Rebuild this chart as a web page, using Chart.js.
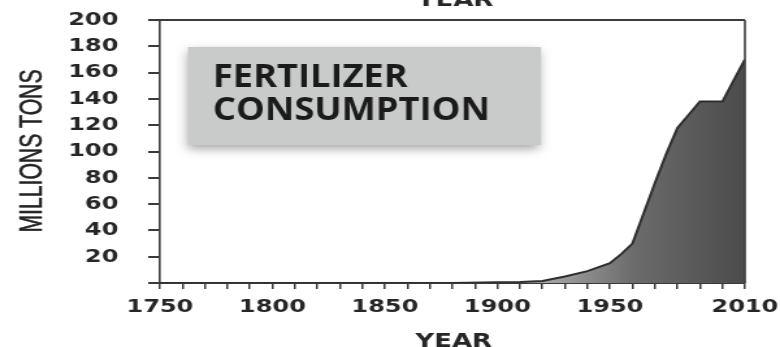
<!DOCTYPE html>
<html>
<head>
<meta charset="utf-8">
<script src="https://cdn.jsdelivr.net/npm/chart.js@4.4.1/dist/chart.umd.min.js"></script>
<style>
  html, body { margin: 0; padding: 0; background: #fff; overflow: hidden; }
  #c { display: block; filter: blur(0.5px); }
</style>
</head>
<body>
<!-- drawn on a narrower canvas and widened, giving the wide lettering -->
<canvas id="c" width="600" height="347" style="width:780px;height:347px"></canvas>
<script>
// World fertilizer consumption, millions of tons
const years  = [1750, 1800, 1850, 1880, 1900, 1910, 1920, 1930, 1940, 1950, 1955, 1960, 1965, 1970, 1975, 1980, 1985, 1990, 2000, 2005, 2010];
const tonnes = [0,    0,    0,    0,    0.5,  0.8,  1.5,  5,    9,    15,   22,   30,   53,   76,   98,   118,  128,  138,  138,  154,  170];

const yTickValues  = [0, 20, 40, 60, 80, 100, 120, 140, 160, 180, 200];
const xLabelYears  = [1750, 1800, 1850, 1900, 1950, 2010];
const panelLines   = ['FERTILIZER', 'CONSUMPTION'];
const xAxisTitle   = 'YEAR';
const yAxisTitle   = 'MILLIONS TONS';

const INK = '#262626';
const AXIS = '#3a3a3a';
const TICK_FONT = { family: '"DejaVu Sans", Verdana, sans-serif', size: 18.5, weight: 'bold' };

function areaFill(context) {
  const chart = context.chart;
  const area = chart.chartArea;
  if (!area) return '#666';
  const xs = chart.scales.x;
  const g = chart.ctx.createLinearGradient(xs.getPixelForValue(1920), 0, area.right, 0);
  g.addColorStop(0, '#a9a9a9');
  g.addColorStop(0.45, '#6c6c6c');
  g.addColorStop(1, '#4b4b4b');
  return g;
}

const decorations = {
  id: 'decorations',
  afterDraw(chart) {
    const ctx = chart.ctx;
    const a = chart.chartArea;
    ctx.save();

    // top and right edges of the plot frame
    ctx.strokeStyle = AXIS;
    ctx.lineWidth = 2;
    ctx.beginPath();
    ctx.moveTo(a.left, a.top);
    ctx.lineTo(a.right, a.top);
    ctx.stroke();
    ctx.lineWidth = 1.6;
    ctx.beginPath();
    ctx.moveTo(a.right, a.top);
    ctx.lineTo(a.right, a.bottom);
    ctx.stroke();

    // caption panel with a soft drop shadow
    const bx = 144.6, by = 47, bw = 271.6, bh = 98;
    ctx.save();
    ctx.shadowColor = 'rgba(0,0,0,0.35)';
    ctx.shadowBlur = 9;
    ctx.shadowOffsetX = -1;
    ctx.shadowOffsetY = 4;
    ctx.fillStyle = '#c9caca';
    ctx.fillRect(bx, by, bw, bh);
    ctx.restore();

    ctx.fillStyle = '#1b1b1b';
    ctx.font = 'bold 32px "Open Sans", sans-serif';
    ctx.textAlign = 'left';
    ctx.textBaseline = 'alphabetic';
    const sx = 213 / ctx.measureText(panelLines[1]).width;
    [[panelLines[0], 86.5], [panelLines[1], 120]].forEach(([t, y]) => {
      ctx.save();
      ctx.translate(163.8, y);
      ctx.scale(sx, 1);
      ctx.fillText(t, 0, 0);
      ctx.restore();
    });

    // axis titles
    ctx.fillStyle = INK;
    ctx.font = 'bold 20px "DejaVu Sans", Verdana, sans-serif';
    ctx.textAlign = 'center';
    ctx.textBaseline = 'alphabetic';
    const cx = (a.left + a.right) / 2;
    ctx.fillText(xAxisTitle, cx + 1, 346.5);
    ctx.fillText(xAxisTitle, cx + 2, 5.5);

    ctx.save();
    ctx.translate(25.6, 151);
    ctx.rotate(-Math.PI / 2);
    ctx.font = '24px "Liberation Sans", Arial, sans-serif';
    ctx.textBaseline = 'middle';
    ctx.textAlign = 'center';
    const sy = 163 / ctx.measureText(yAxisTitle).width;
    ctx.scale(sy, 1);
    ctx.fillStyle = '#222';
    ctx.strokeStyle = '#222';
    ctx.lineWidth = 0.5;
    ctx.fillText(yAxisTitle, 0, 0);
    ctx.strokeText(yAxisTitle, 0, 0);
    ctx.restore();

    ctx.restore();
  }
};

new Chart(document.getElementById('c'), {
  type: 'line',
  data: {
    datasets: [{
      data: years.map((y, i) => ({ x: y, y: tonnes[i] })),
      borderColor: '#2e2e2e',
      borderWidth: 2,
      backgroundColor: areaFill,
      fill: 'origin',
      pointRadius: 0,
      tension: 0
    }]
  },
  options: {
    responsive: false,
    animation: false,
    devicePixelRatio: 1,
    layout: { padding: { left: 0, right: 27, top: 20, bottom: 0 } },
    plugins: { legend: { display: false }, tooltip: { enabled: false } },
    scales: {
      x: {
        type: 'linear',
        min: 1750,
        max: 2010,
        afterFit(scale) {
          scale.height = 64;
          scale.paddingLeft = 0;
          scale.paddingRight = 0;
        },
        ticks: {
          stepSize: 10,
          autoSkip: false,
          maxRotation: 0,
          padding: 7,
          color: INK,
          font: TICK_FONT,
          callback: v => xLabelYears.includes(v) ? String(v) : ''
        },
        grid: { drawOnChartArea: false, drawTicks: true, tickLength: 6, color: AXIS, lineWidth: 1.5 },
        border: { display: true, color: AXIS, width: 2 }
      },
      y: {
        min: 0,
        max: 200,
        afterFit(scale) {
          scale.width = 123;
          scale.paddingTop = 0;
          scale.paddingBottom = 0;
        },
        afterBuildTicks(scale) { scale.ticks = yTickValues.map(v => ({ value: v })); },
        ticks: {
          padding: 23,
          color: INK,
          font: TICK_FONT,
          callback: v => v === 0 ? '' : String(v)
        },
        grid: { drawOnChartArea: false, drawTicks: true, tickLength: 9, color: AXIS, lineWidth: 2 },
        border: { display: true, color: AXIS, width: 1.6 }
      }
    }
  },
  plugins: [decorations]
});
</script>
</body>
</html>
